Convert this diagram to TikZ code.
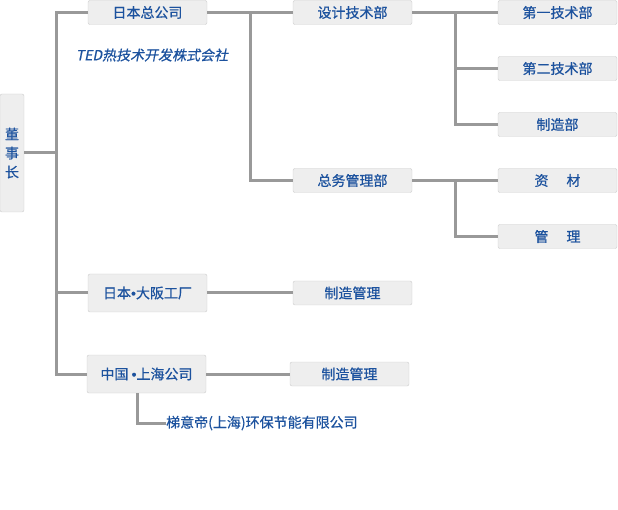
\documentclass[tikz,border=0pt]{standalone}
\usepackage{fontspec}
\setmainfont{Noto Sans CJK SC}[UprightFeatures={FakeBold=0.6}]
\newfontfamily\slantcjk{Noto Sans CJK SC}[FakeSlant=0.2, FakeBold=0.6]
\newfontfamily\dotfont{Liberation Sans}[FakeBold=0.6]
\usepackage{xcolor}
\usepackage{tikz}
\usetikzlibrary{positioning}
\definecolor{orgblue}{RGB}{28,82,158}
\definecolor{linkgray}{RGB}{153,153,153}
\definecolor{boxfill}{RGB}{238,238,238}
\definecolor{boxline}{RGB}{204,204,204}
\newcommand{\sepdot}{{\dotfont\char"2022}}
\begin{document}
\begin{tikzpicture}[x=1pt, y=-1pt, node distance=32pt,
  unit/.style={draw=boxline, fill=boxfill, rounded corners=2pt, minimum width=119pt, minimum height=24pt, inner sep=0pt, outer sep=0pt, text=orgblue, font=\fontsize{14}{16}\selectfont},
  plant/.style={unit, minimum height=38pt},
  link/.style={draw=linkgray, line width=3pt}]
\useasboundingbox (0,0) rectangle (618,510);
\node[unit, minimum width=24pt, minimum height=118pt, align=center, font=\fontsize{14}{19}\selectfont] (chair) at (12,153) {董\\事\\长};
\node[unit] (hq) at (147.5,12.5) {日本总公司};
\node[text=orgblue, font=\slantcjk\fontsize{14}{16}\selectfont] (ted) at (152,55) {TED热技术开发株式会社};
\node[unit] (design) at (352.5,12.5) {设计技术部};
\node[unit] (admin) at (352.5,180.5) {总务管理部};
\node[unit] (tech1) at (557.5,12.5) {第一技术部};
\node[unit, below=of tech1] (tech2) {第二技术部};
\node[unit, below=of tech2] (mfg) {制造部\hspace{18pt}};
\node[unit, below=of mfg] (material) {资\hspace{18pt}材};
\node[unit, below=of material] (mgmt) {管\hspace{18pt}理};
\node[plant] (osaka) at (147.5,293) {日本\sepdot 大阪工厂};
\node[unit] (osakamfg) at (352.5,293) {制造管理};
\node[plant] (shanghai) at (146.5,374) {中国 \sepdot 上海公司};
\node[unit] (shmfg) at (349.5,374) {制造管理};
\node[text=orgblue, font=\fontsize{14}{16}\selectfont, anchor=west, inner sep=0pt] (subsidiary) at (166,423) {梯意帝(上海)环保节能有限公司};
\draw[link] (chair.east) -- ++(32,0);
\draw[link] (hq.west) -- ++(-32,0) |- (shanghai.west);
\draw[link] (osaka.west) -- ++(-32,0);
\draw[link] (hq.east) -- (design.west);
\draw[link] (hq.east) -- ++(43,0) |- (admin.west);
\draw[link] (design.east) -- (tech1.west);
\draw[link] (design.east) -- ++(43,0) |- (tech2.west);
\draw[link] (design.east) -- ++(43,0) |- (mfg.west);
\draw[link] (admin.east) -- (material.west);
\draw[link] (admin.east) -- ++(43,0) |- (mgmt.west);
\draw[link] (osaka) -- (osakamfg);
\draw[link] (shanghai) -- (shmfg);
\draw[link] ([xshift=-9.5pt]shanghai.south) |- (subsidiary.west);
\end{tikzpicture}
\end{document}
